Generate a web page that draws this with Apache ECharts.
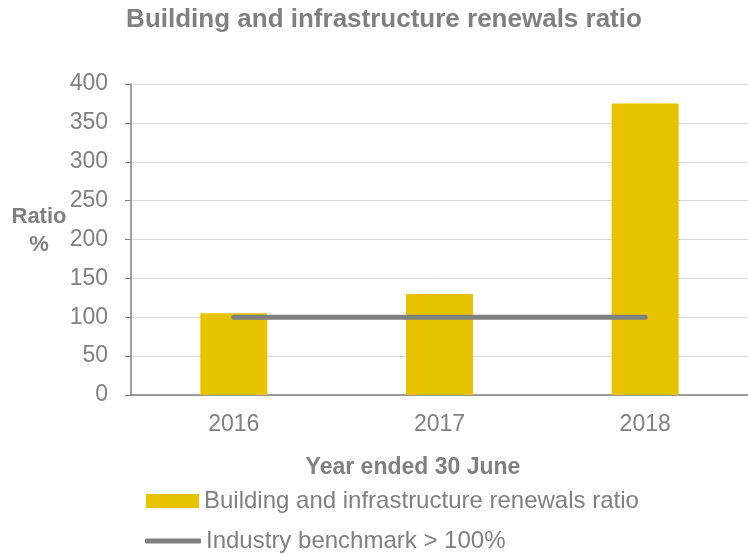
<!DOCTYPE html>
<html><head><meta charset="utf-8">
<script src="https://cdn.jsdelivr.net/npm/echarts@6/dist/echarts.min.js"></script>
<style>html,body{margin:0;padding:0;background:#fff}#c{width:748px;height:554px}</style>
</head><body><div id="c"></div>
<script>
const categories = ['2016', '2017', '2018'];
const renewalsRatio = [105, 130, 375];
const benchmark = [100, 100, 100];
const yTicks = [0, 50, 100, 150, 200, 250, 300, 350, 400];
const seriesNames = ['Building and infrastructure renewals ratio', 'Industry benchmark > 100%'];

const gray = '#808080';
const font = "'Liberation Sans', Arial, sans-serif";
const chart = echarts.init(document.getElementById('c'));
chart.setOption({
  animation: false,
  textStyle: { fontFamily: font },
  title: {
    text: 'Building and infrastructure renewals ratio',
    left: 379, top: 2, textAlign: 'center',
    textStyle: { color: gray, fontSize: 26, fontWeight: 'bold', fontFamily: font }
  },
  grid: { left: 131, right: 0, top: 84, bottom: 159 },
  legend: [
    {
      left: 146, top: 489, padding: 0, itemWidth: 53, itemHeight: 14, itemGap: 0,
      textStyle: { color: gray, fontSize: 24, fontFamily: font },
      data: [{ name: seriesNames[0], icon: 'rect' }]
    },
    {
      left: 145, top: 529, padding: 0, itemWidth: 56, itemHeight: 5, itemGap: 0,
      textStyle: { color: gray, fontSize: 24, fontFamily: font },
      data: [{ name: seriesNames[1], icon: 'roundRect', itemStyle: { color: gray } }]
    }
  ],
  xAxis: {
    type: 'category', data: categories,
    axisLine: { lineStyle: { color: gray, width: 1.5 } },
    axisTick: { inside: true, length: 6, lineStyle: { color: gray } },
    axisLabel: { color: gray, fontSize: 23, margin: 18, fontFamily: font }
  },
  yAxis: {
    type: 'value', min: yTicks[0], max: yTicks[yTicks.length - 1], interval: 50,
    axisLine: { show: true, lineStyle: { color: gray, width: 1.5 } },
    axisTick: { show: true, length: 6, lineStyle: { color: gray } },
    axisLabel: { color: gray, fontSize: 23, margin: 23, fontFamily: font },
    splitLine: { lineStyle: { color: '#d9d9d9', width: 1 } }
  },
  graphic: [
    { type: 'text', x: 39, y: 203, style: { text: 'Ratio\n%', fill: gray, font: "bold 22px 'Liberation Sans', Arial, sans-serif", textAlign: 'center', lineHeight: 28 } },
    { type: 'text', x: 413, y: 456, style: { text: 'Year ended 30 June', fill: gray, font: "bold 23px 'Liberation Sans', Arial, sans-serif", textAlign: 'center' } }
  ],
  series: [
    {
      name: seriesNames[0], type: 'bar', data: renewalsRatio, barWidth: 67,
      itemStyle: { color: '#E8C400' }
    },
    {
      name: seriesNames[1], type: 'line', data: benchmark, symbol: 'none',
      lineStyle: { color: gray, width: 5, cap: 'round' },
      itemStyle: { color: gray }
    }
  ]
});
</script></body></html>
